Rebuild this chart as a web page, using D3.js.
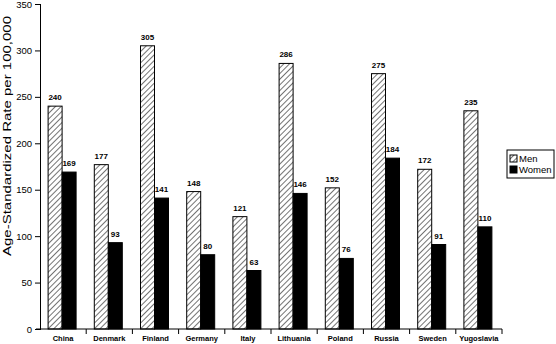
<!DOCTYPE html>
<html><head><meta charset="utf-8">
<script src="https://cdn.jsdelivr.net/npm/d3@7"></script>
<style>
body{margin:0;background:#fff;}
text{font-family:"Liberation Sans",Arial,sans-serif;fill:#000;}
</style></head>
<body><svg id="chart" width="556" height="344"></svg>
<script>
const countries = ["China","Denmark","Finland","Germany","Italy","Lithuania","Poland","Russia","Sweden","Yugoslavia"];
const men   = [240,177,305,148,121,286,152,275,172,235];
const women = [169,93,141,80,63,146,76,184,91,110];
const yTicks = [0,50,100,150,200,250,300,350];
const seriesNames = ["Men","Women"];

const svg = d3.select("#chart");
const plotLeft = 40, plotRight = 502, plotTop = 4, plotBottom = 329;

const defs = svg.append("defs");
const pat = defs.append("pattern").attr("id","hatch").attr("patternUnits","userSpaceOnUse")
  .attr("width",4).attr("height",4).attr("patternTransform","rotate(45)");
pat.append("rect").attr("width",4).attr("height",4).attr("fill","#fff");
pat.append("line").attr("x1",0).attr("y1",0).attr("x2",0).attr("y2",4)
  .attr("stroke","#000").attr("stroke-width",1.1);

const x = d3.scaleBand().domain(countries).range([plotLeft,plotRight]).paddingInner(0).paddingOuter(0);
const inner = d3.scaleBand().domain(seriesNames).range([0,28]);
const y = d3.scaleLinear().domain([0,350]).range([plotBottom,plotTop]);

const data = countries.map((c,i)=>({c, vals:[{s:"Men",v:men[i]},{s:"Women",v:women[i]}]}));
const offset = (x.bandwidth()-28)/2 - 1;

const g = svg.append("g");
const groups = g.selectAll("g.cat").data(data).join("g")
  .attr("transform",d=>`translate(${x(d.c)+offset},0)`);
groups.selectAll("rect").data(d=>d.vals).join("rect")
  .attr("x",d=>inner(d.s)).attr("width",inner.bandwidth())
  .attr("y",d=>y(d.v)).attr("height",d=>y(0)-y(d.v))
  .attr("fill",d=>d.s==="Men"?"url(#hatch)":"#000")
  .attr("stroke","#000").attr("stroke-width",1);
groups.selectAll("text.val").data(d=>d.vals).join("text").attr("class","val")
  .attr("x",d=>inner(d.s)+inner.bandwidth()/2).attr("y",d=>y(d.v)-6)
  .attr("text-anchor","middle").attr("font-size",8).attr("font-weight","bold")
  .text(d=>d.v);

// y axis
const yAxis = d3.axisLeft(y).tickValues(yTicks).tickSize(5).tickSizeOuter(0);
const ya = svg.append("g").attr("transform",`translate(${plotLeft},0)`).call(yAxis);
ya.select(".domain").attr("stroke","#000");
ya.selectAll(".tick line").attr("x2",-5).attr("x1",1);
ya.selectAll("text").attr("font-size",9.5).attr("font-family","Liberation Sans, Arial").attr("x",-8);

// x axis with ticks between categories
const xa = svg.append("g").attr("transform",`translate(0,${plotBottom})`);
xa.append("line").attr("x1",plotLeft-4).attr("x2",plotRight).attr("stroke","#000");
xa.selectAll("line.t").data(countries).join("line").attr("class","t")
  .attr("x1",d=>x(d)+x.bandwidth()).attr("x2",d=>x(d)+x.bandwidth())
  .attr("y1",0).attr("y2",5).attr("stroke","#000");
xa.selectAll("text").data(countries).join("text")
  .attr("x",d=>x(d)+x.bandwidth()/2).attr("y",12)
  .attr("text-anchor","middle").attr("font-size",7.5).attr("font-weight","bold")
  .text(d=>d);

// y axis title, stretched along its length
svg.append("text").attr("transform","translate(11,136) rotate(-90)")
  .attr("text-anchor","middle").attr("font-size",10.5)
  .attr("textLength",240).attr("lengthAdjust","spacingAndGlyphs")
  .text("Age-Standardized Rate per 100,000");

// legend
const lg = svg.append("g").attr("transform","translate(507,150)");
lg.append("rect").attr("width",47).attr("height",28).attr("fill","#fff").attr("stroke","#000").attr("stroke-width",1);
seriesNames.forEach((s,i)=>{
  lg.append("rect").attr("x",3).attr("y",5+i*11).attr("width",7).attr("height",7)
    .attr("fill",s==="Men"?"url(#hatch)":"#000").attr("stroke","#000");
  lg.append("text").attr("x",12).attr("y",12+i*11).attr("font-size",9.5).text(s);
});
</script></body></html>
